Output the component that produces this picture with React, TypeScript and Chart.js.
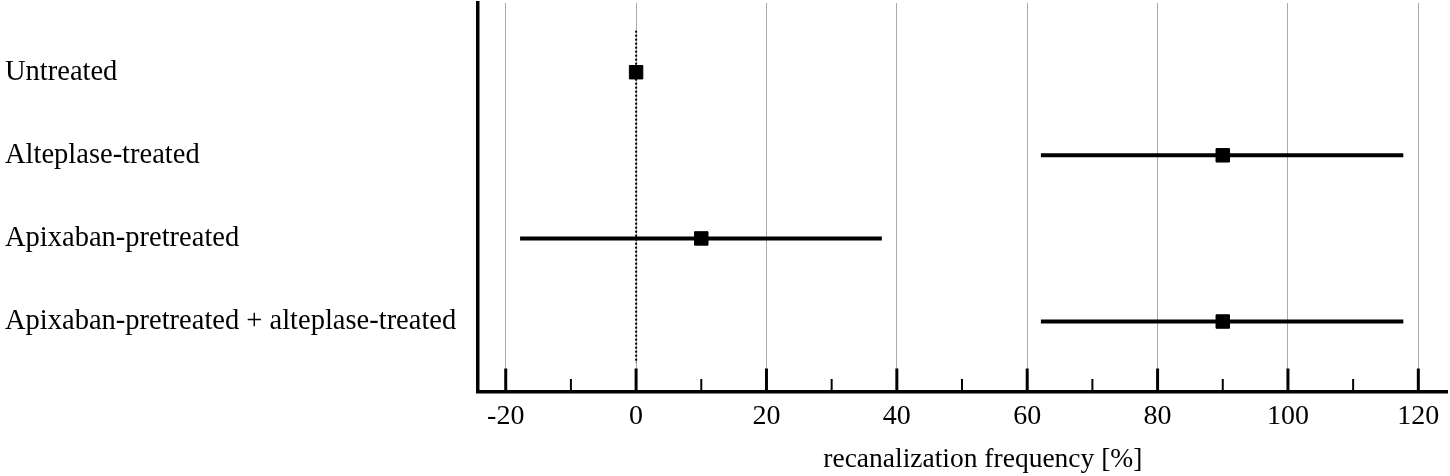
import React, { useEffect, useRef } from 'react';
import { Chart, registerables } from 'chart.js';

Chart.register(...registerables);

const groups = [
  'Untreated',
  'Alteplase-treated',
  'Apixaban-pretreated',
  'Apixaban-pretreated + alteplase-treated',
];
const means = [0, 90, 10, 90];
const lower = [0, 62.1, -17.8, 62.1];
const upper = [0, 117.7, 37.7, 117.7];
const xTickValues = [-20, -10, 0, 10, 20, 30, 40, 50, 60, 70, 80, 90, 100, 110, 120];
const xAxisTitle = 'recanalization frequency [%]';

const FONT = "'Liberation Serif', 'Times New Roman', serif";

const tickMarks = {
  id: 'tickMarks',
  afterDatasetsDraw(chart: any) {
    const xs = chart.scales.x;
    const ctx = chart.ctx;
    const base = xs.top;
    ctx.save();
    ctx.strokeStyle = '#000';
    xs.ticks.forEach((t: any) => {
      const major = t.value % 20 === 0;
      const px = xs.getPixelForValue(t.value);
      ctx.lineWidth = major ? 3 : 2;
      ctx.beginPath();
      ctx.moveTo(px, base);
      ctx.lineTo(px, base - (major ? 23 : 12.5));
      ctx.stroke();
    });
    ctx.restore();
  },
  afterDraw(chart: any) {
    const xs = chart.scales.x;
    const ctx = chart.ctx;
    ctx.save();
    ctx.fillStyle = '#000';
    ctx.font = `27.5px ${FONT}`;
    ctx.textAlign = 'center';
    ctx.textBaseline = 'middle';
    ctx.fillText(xAxisTitle, (xs.left + xs.right) / 2 + 20.5, xs.bottom - 16.5);
    ctx.restore();
  },
};

export default function App() {
  const ref = useRef<HTMLCanvasElement | null>(null);

  useEffect(() => {
    if (!ref.current) return;
    const datasets: any[] = [];
    datasets.push({
      label: 'mean',
      data: means.map((m, i) => ({ x: m, y: i })),
      pointStyle: 'rect',
      pointRadius: 9.5,
      pointHoverRadius: 9.5,
      backgroundColor: '#000',
      borderColor: '#000',
      borderWidth: 1,
      showLine: false,
    });
    groups.forEach((g, i) => {
      if (upper[i] !== lower[i]) {
        datasets.push({
          label: g + ' range',
          data: [
            { x: lower[i], y: i },
            { x: upper[i], y: i },
          ],
          showLine: true,
          borderColor: '#000',
          borderWidth: 4,
          pointRadius: 0,
          borderCapStyle: 'butt',
        });
      }
    });
    datasets.push({
      label: 'zero',
      data: [
        { x: 0, y: -0.5 },
        { x: 0, y: groups.length - 0.5 },
      ],
      showLine: true,
      borderColor: '#000',
      borderWidth: 2,
      borderDash: [2, 2],
      pointRadius: 0,
    });

    const chart = new Chart(ref.current, {
      type: 'scatter',
      data: { datasets },
      plugins: [tickMarks],
      options: {
        animation: false,
        responsive: true,
        maintainAspectRatio: false,
        layout: { autoPadding: false, padding: { left: 5, top: 3, right: 3, bottom: 0 } },
        plugins: { legend: { display: false }, tooltip: { enabled: false } },
        scales: {
          x: {
            type: 'linear',
            min: -24.3,
            max: 124.4,
            afterBuildTicks: (scale: any) => {
              scale.ticks = xTickValues.map((v) => ({ value: v }));
            },
            afterFit: (scale: any) => {
              scale.height = 84.5;
              scale.paddingLeft = 0;
              scale.paddingRight = 0;
            },
            grid: {
              drawTicks: false,
              color: (c: any) => (c.tick && c.tick.value % 20 === 0 ? '#aaaaaa' : 'rgba(0,0,0,0)'),
              lineWidth: 1,
            },
            border: { display: true, color: '#000', width: 3.5 },
            ticks: {
              autoSkip: false,
              maxRotation: 0,
              padding: 8,
              color: '#000',
              font: { family: FONT, size: 28 },
              callback: (v: any) => (Number(v) % 20 === 0 ? String(v) : ''),
            },
            title: { display: false },
          },
          y: {
            type: 'linear',
            reverse: true,
            min: -0.833,
            max: 3.842,
            afterBuildTicks: (scale: any) => {
              scale.ticks = groups.map((_, i) => ({ value: i }));
            },
            afterFit: (scale: any) => {
              scale.width = 472.7;
              scale.paddingTop = 0;
              scale.paddingBottom = 0;
            },
            grid: { display: false, drawTicks: false },
            border: { display: true, color: '#000', width: 3.5 },
            ticks: {
              crossAlign: 'far',
              color: '#000',
              font: { family: FONT, size: 28.5 },
              callback: (v: any) => groups[Number(v)] ?? '',
            },
          },
        },
      } as any,
    });
    return () => chart.destroy();
  }, []);

  return (
    <div style={{ position: 'fixed', left: 0, top: 0, width: 1450, height: 476, background: '#fff' }}>
      <canvas ref={ref} />
    </div>
  );
}
